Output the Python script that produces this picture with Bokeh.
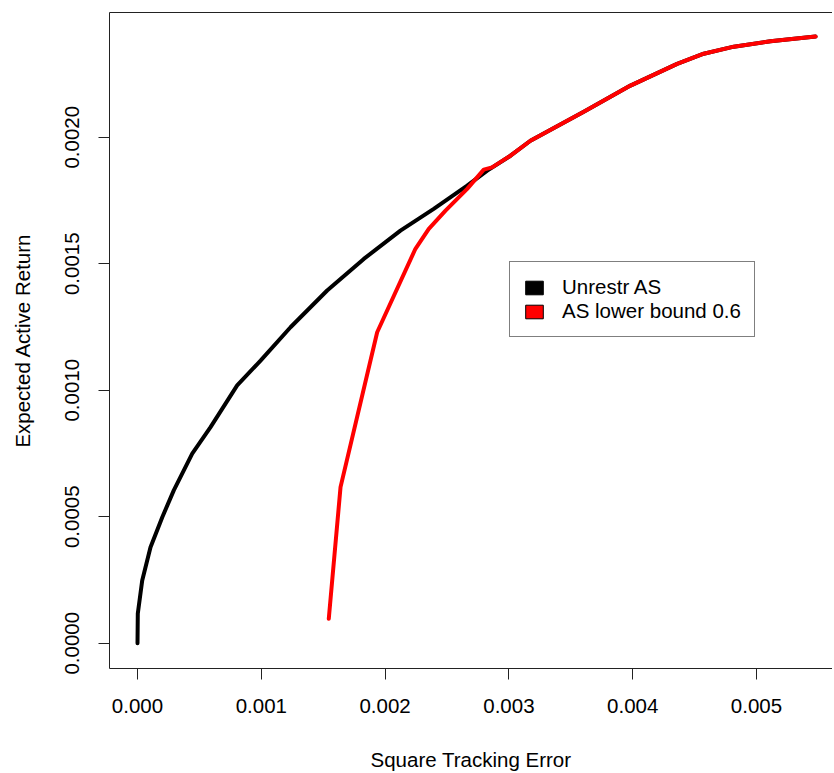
from bokeh.plotting import figure
from bokeh.models import Range1d, FixedTicker, LinearAxis, Legend, LegendItem
from bokeh.embed import file_html
from bokeh.resources import INLINE

# ---- data ----
unrestr_te = [0.0, 0.0000024, 0.000038, 0.000105, 0.0002, 0.000293, 0.000442, 0.00059,
              0.000805, 0.000994, 0.001236, 0.001532, 0.001828, 0.002124, 0.002393,
              0.002663, 0.002825, 0.003013, 0.003174, 0.003605, 0.003982, 0.004359,
              0.004574, 0.004817, 0.005113, 0.005477]
unrestr_ret = [0.0, 0.000117, 0.000248, 0.000379, 0.000498, 0.000604, 0.000749, 0.000854,
               0.001019, 0.001117, 0.001249, 0.001394, 0.001519, 0.001631, 0.001717,
               0.001809, 0.001868, 0.001927, 0.001986, 0.002101, 0.002204, 0.00229,
               0.00233, 0.002358, 0.002379, 0.002398]

bound_te = [0.001545, 0.00164, 0.001936, 0.002245, 0.002353, 0.002488, 0.002663,
            0.002797, 0.002864, 0.003013, 0.003174, 0.003605, 0.003982, 0.004359,
            0.004574, 0.004817, 0.005113, 0.005477]
bound_ret = [0.0000964, 0.000617, 0.001229, 0.001559, 0.001638, 0.00171, 0.001796,
             0.001872, 0.001881, 0.001927, 0.001986, 0.002101, 0.002204, 0.00229,
             0.00233, 0.002358, 0.002379, 0.002398]

x_ticks = [0.0, 0.001, 0.002, 0.003, 0.004, 0.005]
x_tick_labels = ["0.000", "0.001", "0.002", "0.003", "0.004", "0.005"]
y_ticks = [0.0, 0.0005, 0.001, 0.0015, 0.002]
y_tick_labels = ["0.0000", "0.0005", "0.0010", "0.0015", "0.0020"]

series_names = ["Unrestr AS", "AS lower bound 0.6"]
series_colors = ["black", "red"]

FONT = "Liberation Sans"
FS = "20.5px"

p = figure(frame_width=723, frame_height=656, output_backend="svg", toolbar_location=None,
           x_range=Range1d(-0.0002262, 0.005614), y_range=Range1d(-0.0001, 0.002493),
           min_border_left=109, min_border_right=0, min_border_top=12, min_border_bottom=60,
           x_axis_label="Square Tracking Error", y_axis_label="Expected Active Return")
p.grid.visible = False
p.outline_line_color = None
p.background_fill_color = "white"
p.border_fill_color = "white"

p.xaxis.ticker = FixedTicker(ticks=x_ticks)
p.yaxis.ticker = FixedTicker(ticks=y_ticks)
p.xaxis.major_label_overrides = {t: l for t, l in zip(x_ticks, x_tick_labels)}
p.yaxis.major_label_overrides = {t: l for t, l in zip(y_ticks, y_tick_labels)}
p.yaxis.major_label_orientation = "vertical"

for ax in (p.xaxis, p.yaxis):
    ax.major_tick_out = 11
    ax.major_tick_in = 0
    ax.minor_tick_line_color = None
    ax.axis_line_color = "#222222"
    ax.major_tick_line_color = "#222222"
    ax.major_label_text_font = FONT
    ax.major_label_text_font_size = FS
    ax.major_label_text_color = "black"
    ax.axis_label_text_font = FONT
    ax.axis_label_text_font_size = FS
    ax.axis_label_text_font_style = "normal"
    ax.axis_label_text_color = "black"

p.xaxis.major_label_standoff = 19
p.xaxis.axis_label_standoff = 32
p.yaxis.major_label_standoff = 19
p.yaxis.axis_label_standoff = 29

# top border line
top_axis = LinearAxis(ticker=FixedTicker(ticks=[]), major_tick_out=0, major_tick_in=0,
                      minor_tick_line_color=None, axis_line_color="#222222",
                      major_label_text_font_size="0px")
p.add_layout(top_axis, "above")

p.line(unrestr_te, unrestr_ret, line_color=series_colors[0], line_width=4,
       line_cap="round", line_join="round")
p.line(bound_te, bound_ret, line_color=series_colors[1], line_width=4,
       line_cap="round", line_join="round")

# legend keys (filled boxes like R's legend(fill=...)); no visible mark in the plot
nan = float("nan")
keys = []
for name, col in zip(series_names, series_colors):
    r = p.quad(left=[nan], right=[nan], top=[nan], bottom=[nan], fill_color=col,
               line_color="black", line_width=1)
    keys.append(LegendItem(label=name, renderers=[r]))

legend = Legend(items=keys, location=(400, 331), border_line_color="black",
                border_line_width=1, background_fill_color="white", background_fill_alpha=1,
                label_text_font=FONT, label_text_font_size=FS, label_text_color="black",
                glyph_width=22, glyph_height=17, label_standoff=17, padding=13,
                spacing=0, margin=0)
p.add_layout(legend, "center")

open("out.html", "w").write(file_html(p, INLINE))
